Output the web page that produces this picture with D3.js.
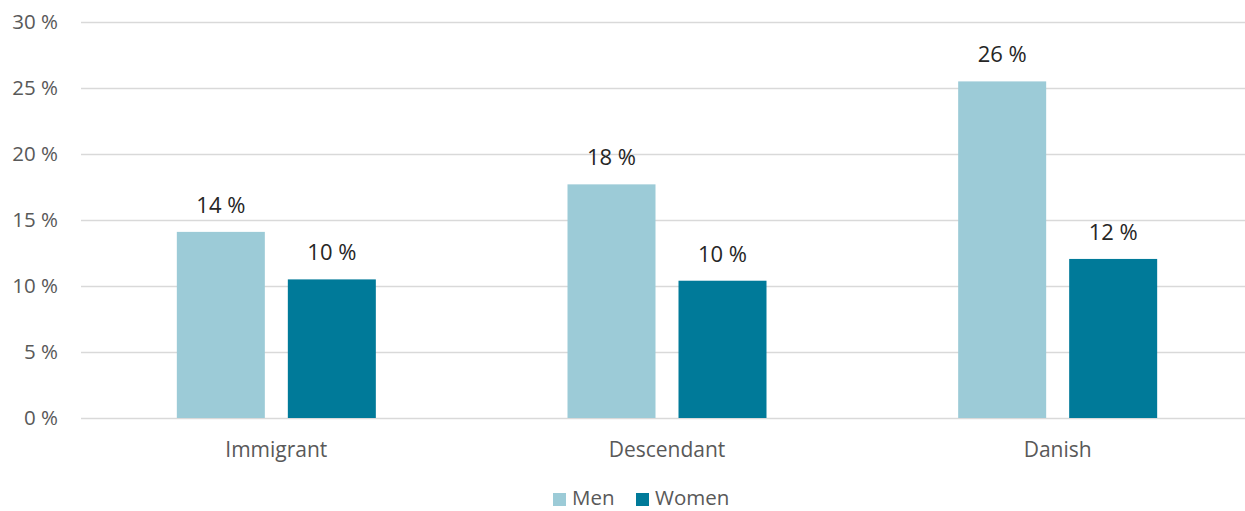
<!DOCTYPE html>
<html>
<head>
<meta charset="utf-8">
<script src="https://cdn.jsdelivr.net/npm/d3@7"></script>
<style>
  body { margin: 0; background: #fff; }
  text { font-family: "Open Sans", sans-serif; }
</style>
</head>
<body>
<svg id="chart" width="1245" height="511"></svg>
<script>
// data
var categories = ['Immigrant', 'Descendant', 'Danish'];
var seriesNames = ['Men', 'Women'];
var men = [14.1, 17.7, 25.5];
var women = [10.5, 10.4, 12.05];
var menLabels = ['14 %', '18 %', '26 %'];
var womenLabels = ['10 %', '10 %', '12 %'];
var yTicks = [0, 5, 10, 15, 20, 25, 30];

var colors = {Men: '#9ccbd7', Women: '#007a99'};

var svg = d3.select('#chart');

var x = d3.scaleBand().domain(categories).range([81, 1253]);
var y = d3.scaleLinear().domain([0, 30]).range([418, 22]);

var barW = 88, gap = 23;
var groupW = barW * 2 + gap;

// gridlines
svg.append('g').selectAll('line')
  .data(yTicks)
  .enter().append('line')
  .attr('x1', 81).attr('x2', 1253)
  .attr('y1', d => Math.round(y(d)) + 0.5)
  .attr('y2', d => Math.round(y(d)) + 0.5)
  .attr('stroke', '#d9d9d9')
  .attr('stroke-width', 1.5);

// y tick labels
svg.append('g').selectAll('text')
  .data(yTicks)
  .enter().append('text')
  .attr('x', 58)
  .attr('y', d => y(d))
  .attr('dy', '0.35em')
  .attr('text-anchor', 'end')
  .attr('fill', '#595959')
  .style('font-size', '20.5px')
  .text(d => d + ' %');

var rows = categories.map((c, i) => ({
  cat: c,
  vals: [
    {name: 'Men', value: men[i], label: menLabels[i]},
    {name: 'Women', value: women[i], label: womenLabels[i]}
  ]
}));

var groups = svg.append('g').selectAll('g')
  .data(rows)
  .enter().append('g')
  .attr('transform', d => `translate(${x(d.cat) + x.bandwidth() / 2 - groupW / 2},0)`);

groups.selectAll('rect')
  .data(d => d.vals)
  .enter().append('rect')
  .attr('x', (d, i) => i * (barW + gap))
  .attr('y', d => y(d.value))
  .attr('width', barW)
  .attr('height', d => y(0) - y(d.value))
  .attr('fill', d => colors[d.name]);

groups.selectAll('text')
  .data(d => d.vals)
  .enter().append('text')
  .attr('x', (d, i) => i * (barW + gap) + barW / 2)
  .attr('y', d => y(d.value) - 19)
  .attr('text-anchor', 'middle')
  .attr('fill', '#262626')
  .style('font-size', '22px')
  .text(d => d.label);

// category labels
svg.append('g').selectAll('text')
  .data(categories)
  .enter().append('text')
  .attr('x', d => x(d) + x.bandwidth() / 2)
  .attr('y', 457)
  .attr('text-anchor', 'middle')
  .attr('fill', '#595959')
  .style('font-size', '21px')
  .text(d => d);

// legend
var legend = svg.append('g').attr('transform', 'translate(553,493)');
var lx = [0, 83];
seriesNames.forEach((s, i) => {
  legend.append('rect')
    .attr('x', lx[i]).attr('y', 0)
    .attr('width', 13).attr('height', 13)
    .attr('fill', colors[s]);
  legend.append('text')
    .attr('x', lx[i] + 19).attr('y', 12)
    .attr('fill', '#595959')
    .style('font-size', '20.5px')
    .text(s);
});
</script>
</body>
</html>
